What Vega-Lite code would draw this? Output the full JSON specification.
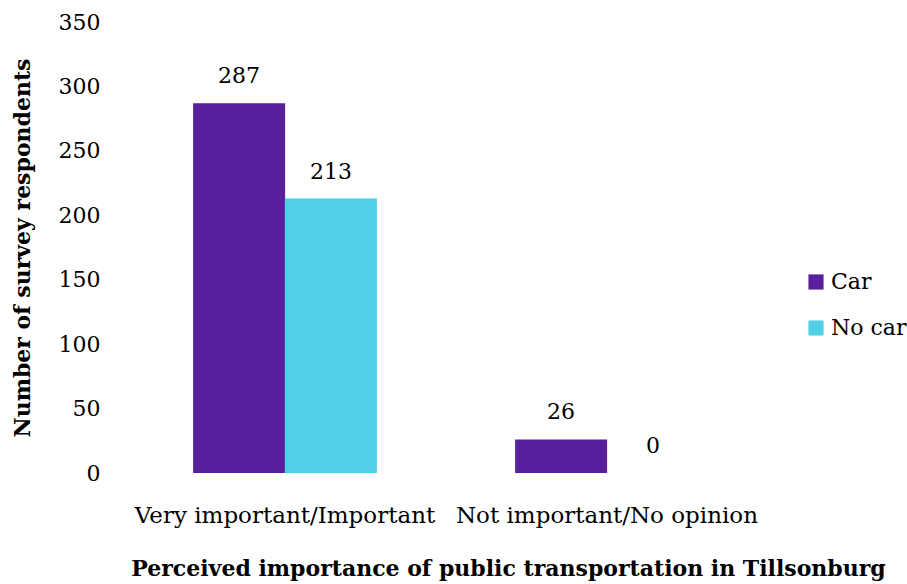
{
  "$schema": "https://vega.github.io/schema/vega-lite/v6.json",
  "width": 644,
  "height": 451,
  "autosize": {"type": "none"},
  "padding": {"left": 124, "top": 22, "right": 139, "bottom": 111},
  "background": "white",
  "config": {
    "view": {"stroke": null},
    "font": "DejaVu Serif",
    "axis": {"labelFont": "DejaVu Serif", "titleFont": "DejaVu Serif", "labelColor": "#000", "titleColor": "#000"},
    "legend": {"labelFont": "DejaVu Serif", "labelColor": "#000"}
  },
  "data": {
    "values": [
      {"category": "Very important/Important", "group": "Car", "value": 287},
      {"category": "Very important/Important", "group": "No car", "value": 213},
      {"category": "Not important/No opinion", "group": "Car", "value": 26},
      {"category": "Not important/No opinion", "group": "No car", "value": 0}
    ]
  },
  "encoding": {
    "x": {
      "field": "category", "type": "nominal", "sort": null,
      "scale": {"paddingInner": 0.43, "paddingOuter": 0.215},
      "axis": {
        "title": "Perceived importance of public transportation in Tillsonburg",
        "labelAngle": 0, "labelFontSize": 23, "labelPadding": 31, "labelLimit": 0,
        "domain": false, "ticks": false, "titleFontSize": 22, "titleFontWeight": "bold",
        "titlePadding": 31, "titleLimit": 0, "titleX": 384, "titleAlign": "center", "titleAnchor": null
      }
    },
    "xOffset": {"field": "group", "type": "nominal", "sort": ["Car", "No car"]},
    "y": {
      "field": "value", "type": "quantitative",
      "scale": {"domain": [0, 350], "nice": false},
      "axis": {
        "title": "Number of survey respondents", "values": [0, 50, 100, 150, 200, 250, 300, 350],
        "grid": false, "domain": false, "ticks": false, "labelFontSize": 22, "labelPadding": 24,
        "titleFontSize": 22, "titleFontWeight": "bold", "titleX": -102, "titleBaseline": "middle", "titleLimit": 0
      }
    }
  },
  "layer": [
    {
      "mark": {"type": "bar", "width": 92},
      "encoding": {
        "color": {
          "field": "group", "type": "nominal",
          "scale": {"domain": ["Car", "No car"], "range": ["#5a1f9c", "#4fd0e6"]},
          "legend": {
            "title": null, "orient": "none", "legendX": 681, "legendY": 249,
            "symbolType": "square", "symbolSize": 230, "symbolStrokeWidth": 0,
            "labelFontSize": 22, "rowPadding": 24, "labelOffset": 4
          }
        }
      }
    },
    {
      "mark": {"type": "text", "dy": -27, "fontSize": 22, "color": "#000", "font": "DejaVu Serif"},
      "encoding": {"text": {"field": "value", "type": "quantitative"}}
    }
  ]
}
